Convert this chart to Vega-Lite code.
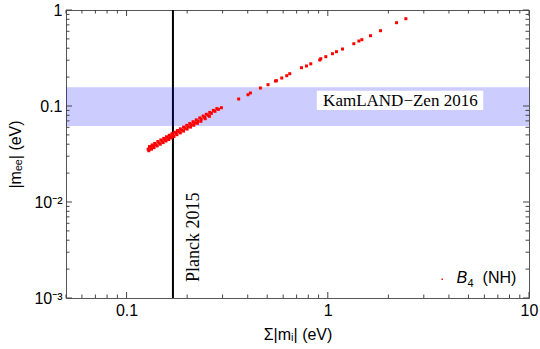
{
  "$schema": "https://vega.github.io/schema/vega-lite/v6.json",
  "width": 463,
  "height": 288,
  "autosize": {"type": "none"},
  "padding": {"left": 66, "top": 10, "right": 11, "bottom": 51},
  "background": "white",
  "config": {
    "view": {"stroke": "#555555", "strokeWidth": 1},
    "axis": {
      "grid": false,
      "domain": false,
      "ticks": false,
      "labelColor": "#000000",
      "labelFont": "Liberation Sans",
      "labelFontSize": 16,
      "titleFont": "Liberation Sans",
      "titleFontSize": 16,
      "titleFontWeight": "normal",
      "titleColor": "#000000",
      "labelFlush": false,
      "labelOverlap": false,
      "labelBound": false
    }
  },
  "datasets": {
    "points": [
      {"x": 0.128, "y": 0.0355}, {"x": 0.132, "y": 0.0369}, {"x": 0.136, "y": 0.0382}, {"x": 0.140, "y": 0.0395},
      {"x": 0.145, "y": 0.0412}, {"x": 0.150, "y": 0.0429}, {"x": 0.155, "y": 0.0446}, {"x": 0.160, "y": 0.0463},
      {"x": 0.165, "y": 0.0480}, {"x": 0.170, "y": 0.0497}, {"x": 0.176, "y": 0.0518}, {"x": 0.182, "y": 0.0539},
      {"x": 0.188, "y": 0.0561}, {"x": 0.195, "y": 0.0585}, {"x": 0.202, "y": 0.0610}, {"x": 0.210, "y": 0.0639},
      {"x": 0.218, "y": 0.0668}, {"x": 0.226, "y": 0.0697}, {"x": 0.235, "y": 0.0730}, {"x": 0.244, "y": 0.0763},
      {"x": 0.254, "y": 0.0801}, {"x": 0.264, "y": 0.0838}, {"x": 0.275, "y": 0.0880}, {"x": 0.286, "y": 0.0922},
      {"x": 0.296, "y": 0.0960},
      {"x": 0.130, "y": 0.0378}, {"x": 0.134, "y": 0.0393}, {"x": 0.138, "y": 0.0408}, {"x": 0.143, "y": 0.0426},
      {"x": 0.148, "y": 0.0443}, {"x": 0.153, "y": 0.0460}, {"x": 0.158, "y": 0.0478}, {"x": 0.163, "y": 0.0496},
      {"x": 0.168, "y": 0.0514}, {"x": 0.173, "y": 0.0533}, {"x": 0.179, "y": 0.0555}, {"x": 0.185, "y": 0.0578},
      {"x": 0.192, "y": 0.0603}, {"x": 0.199, "y": 0.0629}, {"x": 0.206, "y": 0.0656}, {"x": 0.214, "y": 0.0686},
      {"x": 0.222, "y": 0.0717}, {"x": 0.231, "y": 0.0752}, {"x": 0.240, "y": 0.0786}, {"x": 0.249, "y": 0.0820},
      {"x": 0.259, "y": 0.0858}, {"x": 0.270, "y": 0.0900}, {"x": 0.281, "y": 0.0940},
      {"x": 0.129, "y": 0.0342}, {"x": 0.133, "y": 0.0355}, {"x": 0.137, "y": 0.0368}, {"x": 0.142, "y": 0.0384},
      {"x": 0.147, "y": 0.0400}, {"x": 0.152, "y": 0.0416}, {"x": 0.157, "y": 0.0432}, {"x": 0.162, "y": 0.0448},
      {"x": 0.167, "y": 0.0465}, {"x": 0.172, "y": 0.0482}, {"x": 0.178, "y": 0.0502}, {"x": 0.185, "y": 0.0525},
      {"x": 0.192, "y": 0.0548}, {"x": 0.200, "y": 0.0575}, {"x": 0.208, "y": 0.0603}, {"x": 0.216, "y": 0.0630},
      {"x": 0.225, "y": 0.0660}, {"x": 0.234, "y": 0.0693}, {"x": 0.246, "y": 0.0737}, {"x": 0.258, "y": 0.0781},
      {"x": 0.3607, "y": 0.1183}, {"x": 0.4013, "y": 0.1311}, {"x": 0.4125, "y": 0.1366}, {"x": 0.4625, "y": 0.154},
      {"x": 0.5047, "y": 0.1667}, {"x": 0.5494, "y": 0.1822}, {"x": 0.5557, "y": 0.1835}, {"x": 0.5905, "y": 0.1957},
      {"x": 0.6252, "y": 0.2068}, {"x": 0.647, "y": 0.217}, {"x": 0.7398, "y": 0.2506}, {"x": 0.7835, "y": 0.261},
      {"x": 0.823, "y": 0.2751}, {"x": 0.9124, "y": 0.3013}, {"x": 0.923, "y": 0.311}, {"x": 0.9774, "y": 0.3263},
      {"x": 1.055, "y": 0.3505}, {"x": 1.105, "y": 0.3678}, {"x": 1.183, "y": 0.3924}, {"x": 1.347, "y": 0.4456},
      {"x": 1.427, "y": 0.4754}, {"x": 1.476, "y": 0.4905}, {"x": 1.631, "y": 0.5398}, {"x": 1.829, "y": 0.6086},
      {"x": 2.197, "y": 0.7376}, {"x": 2.443, "y": 0.8115}
    ],
    "xmajor": [{"v": 0.1}, {"v": 1}, {"v": 10}],
    "xminor": [{"v": 0.05}, {"v": 0.06}, {"v": 0.07}, {"v": 0.08}, {"v": 0.09}, {"v": 0.2}, {"v": 0.3}, {"v": 0.4}, {"v": 0.5}, {"v": 0.6}, {"v": 0.7}, {"v": 0.8}, {"v": 0.9}, {"v": 2}, {"v": 3}, {"v": 4}, {"v": 5}, {"v": 6}, {"v": 7}, {"v": 8}, {"v": 9}],
    "ymajor": [{"v": 0.001}, {"v": 0.01}, {"v": 0.1}, {"v": 1}],
    "yminor": [{"v": 0.002}, {"v": 0.003}, {"v": 0.004}, {"v": 0.005}, {"v": 0.006}, {"v": 0.007}, {"v": 0.008}, {"v": 0.009}, {"v": 0.02}, {"v": 0.03}, {"v": 0.04}, {"v": 0.05}, {"v": 0.06}, {"v": 0.07}, {"v": 0.08}, {"v": 0.09}, {"v": 0.2}, {"v": 0.3}, {"v": 0.4}, {"v": 0.5}, {"v": 0.6}, {"v": 0.7}, {"v": 0.8}, {"v": 0.9}],
    "planck": [{"x": 0.17, "ytext": 0.00147, "xtext": 0.2282, "label": "Planck 2015"}],
    "band": [{"x": 0.05, "x2": 10, "y": 0.062, "y2": 0.157}],
    "box": [{"x": 0.882, "x2": 5.925, "y": 0.0909, "y2": 0.1443, "xt": 2.295, "yt": 0.1, "label": "KamLAND−Zen 2016"}],
    "legend": [{"x": 4.368, "y": 0.001422, "dotx": 3.705, "doty": 0.001566, "b": "B", "sub": "4", "rest": "(NH)"}]
  },
  "resolve": {"axis": {"x": "independent", "y": "independent"}},
  "layer": [
    {
      "data": {"name": "planck"},
      "mark": {"type": "rule", "color": "#000000", "strokeWidth": 2},
      "encoding": {
        "x": {"field": "x", "type": "quantitative",
          "scale": {"type": "log", "domain": [0.05, 10], "nice": false},
          "axis": {"orient": "bottom", "values": [0.1, 1, 10], "labelPadding": 4,
            "labelExpr": "datum.value == 0.1 ? '0.1' : datum.value == 1 ? '1' : '10'",
            "title": "Σ|mᵢ| (eV)", "titleY": 41, "titleBaseline": "alphabetic"}}
      }
    },
    {
      "data": {"name": "band"},
      "mark": {"type": "rect", "color": "#0000ff", "opacity": 0.2},
      "encoding": {
        "x": {"field": "x", "type": "quantitative", "scale": {"type": "log", "domain": [0.05, 10], "nice": false}, "axis": null},
        "x2": {"field": "x2"},
        "y": {"field": "y", "type": "quantitative",
          "scale": {"type": "log", "domain": [0.001, 1], "nice": false},
          "axis": {"orient": "left", "values": [0.001, 0.01, 0.1, 1], "labelPadding": 4,
            "labelExpr": "datum.value == 1 ? '1' : datum.value == 0.1 ? '0.1' : datum.value == 0.01 ? '10⁻²' : '10⁻³'",
            "title": "|mₑₑ| (eV)", "titleX": -51, "titleY": 144, "titleAngle": -90, "titleBaseline": "middle", "titleAlign": "center"}},
        "y2": {"field": "y2"}
      }
    },
    {
      "data": {"name": "xmajor"},
      "mark": {"type": "tick", "orient": "vertical", "size": 6, "thickness": 1, "color": "#444444", "opacity": 1, "yOffset": -3},
      "encoding": {
        "x": {"field": "v", "type": "quantitative", "scale": {"type": "log", "domain": [0.05, 10], "nice": false}, "axis": null},
        "y": {"datum": 0.001, "type": "quantitative", "scale": {"type": "log", "domain": [0.001, 1], "nice": false}, "axis": null}
      }
    },
    {
      "data": {"name": "xmajor"},
      "mark": {"type": "tick", "orient": "vertical", "size": 6, "thickness": 1, "color": "#444444", "opacity": 1, "yOffset": 3},
      "encoding": {
        "x": {"field": "v", "type": "quantitative", "scale": {"type": "log", "domain": [0.05, 10], "nice": false}, "axis": null},
        "y": {"datum": 1, "type": "quantitative", "scale": {"type": "log", "domain": [0.001, 1], "nice": false}, "axis": null}
      }
    },
    {
      "data": {"name": "xminor"},
      "mark": {"type": "tick", "orient": "vertical", "size": 3.5, "thickness": 1, "color": "#444444", "opacity": 1, "yOffset": -1.75},
      "encoding": {
        "x": {"field": "v", "type": "quantitative", "scale": {"type": "log", "domain": [0.05, 10], "nice": false}, "axis": null},
        "y": {"datum": 0.001, "type": "quantitative", "scale": {"type": "log", "domain": [0.001, 1], "nice": false}, "axis": null}
      }
    },
    {
      "data": {"name": "xminor"},
      "mark": {"type": "tick", "orient": "vertical", "size": 3.5, "thickness": 1, "color": "#444444", "opacity": 1, "yOffset": 1.75},
      "encoding": {
        "x": {"field": "v", "type": "quantitative", "scale": {"type": "log", "domain": [0.05, 10], "nice": false}, "axis": null},
        "y": {"datum": 1, "type": "quantitative", "scale": {"type": "log", "domain": [0.001, 1], "nice": false}, "axis": null}
      }
    },
    {
      "data": {"name": "ymajor"},
      "mark": {"type": "tick", "orient": "horizontal", "size": 6, "thickness": 1, "color": "#444444", "opacity": 1, "xOffset": 3},
      "encoding": {
        "y": {"field": "v", "type": "quantitative", "scale": {"type": "log", "domain": [0.001, 1], "nice": false}, "axis": null},
        "x": {"datum": 0.05, "type": "quantitative", "scale": {"type": "log", "domain": [0.05, 10], "nice": false}, "axis": null}
      }
    },
    {
      "data": {"name": "ymajor"},
      "mark": {"type": "tick", "orient": "horizontal", "size": 6, "thickness": 1, "color": "#444444", "opacity": 1, "xOffset": -3},
      "encoding": {
        "y": {"field": "v", "type": "quantitative", "scale": {"type": "log", "domain": [0.001, 1], "nice": false}, "axis": null},
        "x": {"datum": 10, "type": "quantitative", "scale": {"type": "log", "domain": [0.05, 10], "nice": false}, "axis": null}
      }
    },
    {
      "data": {"name": "yminor"},
      "mark": {"type": "tick", "orient": "horizontal", "size": 3.5, "thickness": 1, "color": "#444444", "opacity": 1, "xOffset": 1.75},
      "encoding": {
        "y": {"field": "v", "type": "quantitative", "scale": {"type": "log", "domain": [0.001, 1], "nice": false}, "axis": null},
        "x": {"datum": 0.05, "type": "quantitative", "scale": {"type": "log", "domain": [0.05, 10], "nice": false}, "axis": null}
      }
    },
    {
      "data": {"name": "yminor"},
      "mark": {"type": "tick", "orient": "horizontal", "size": 3.5, "thickness": 1, "color": "#444444", "opacity": 1, "xOffset": -1.75},
      "encoding": {
        "y": {"field": "v", "type": "quantitative", "scale": {"type": "log", "domain": [0.001, 1], "nice": false}, "axis": null},
        "x": {"datum": 10, "type": "quantitative", "scale": {"type": "log", "domain": [0.05, 10], "nice": false}, "axis": null}
      }
    },
    {
      "data": {"name": "points"},
      "mark": {"type": "point", "shape": "square", "filled": true, "color": "#ff0000", "size": 9, "opacity": 1},
      "encoding": {
        "x": {"field": "x", "type": "quantitative", "scale": {"type": "log", "domain": [0.05, 10], "nice": false}, "axis": null},
        "y": {"field": "y", "type": "quantitative", "scale": {"type": "log", "domain": [0.001, 1], "nice": false}, "axis": null}
      }
    },
    {
      "data": {"name": "box"},
      "mark": {"type": "rect", "color": "#ffffff"},
      "encoding": {
        "x": {"field": "x", "type": "quantitative", "scale": {"type": "log", "domain": [0.05, 10], "nice": false}, "axis": null},
        "x2": {"field": "x2"},
        "y": {"field": "y", "type": "quantitative", "scale": {"type": "log", "domain": [0.001, 1], "nice": false}, "axis": null},
        "y2": {"field": "y2"}
      }
    },
    {
      "data": {"name": "box"},
      "mark": {"type": "text", "font": "Liberation Serif", "fontSize": 17, "align": "center", "baseline": "alphabetic", "color": "#000000"},
      "encoding": {
        "x": {"field": "xt", "type": "quantitative", "scale": {"type": "log", "domain": [0.05, 10], "nice": false}, "axis": null},
        "y": {"field": "yt", "type": "quantitative", "scale": {"type": "log", "domain": [0.001, 1], "nice": false}, "axis": null},
        "text": {"field": "label"}
      }
    },
    {
      "data": {"name": "planck"},
      "mark": {"type": "text", "font": "Liberation Serif", "fontSize": 18, "align": "left", "baseline": "alphabetic", "angle": 270, "color": "#000000"},
      "encoding": {
        "x": {"field": "xtext", "type": "quantitative", "scale": {"type": "log", "domain": [0.05, 10], "nice": false}, "axis": null},
        "y": {"field": "ytext", "type": "quantitative", "scale": {"type": "log", "domain": [0.001, 1], "nice": false}, "axis": null},
        "text": {"field": "label"}
      }
    },
    {
      "data": {"name": "legend"},
      "mark": {"type": "point", "shape": "square", "filled": true, "color": "#ff0000", "size": 2, "opacity": 1},
      "encoding": {
        "x": {"field": "dotx", "type": "quantitative", "scale": {"type": "log", "domain": [0.05, 10], "nice": false}, "axis": null},
        "y": {"field": "doty", "type": "quantitative", "scale": {"type": "log", "domain": [0.001, 1], "nice": false}, "axis": null}
      }
    },
    {
      "data": {"name": "legend"},
      "mark": {"type": "text", "font": "Liberation Sans", "fontSize": 16, "fontStyle": "italic", "align": "left", "baseline": "alphabetic", "color": "#000000"},
      "encoding": {
        "x": {"field": "x", "type": "quantitative", "scale": {"type": "log", "domain": [0.05, 10], "nice": false}, "axis": null},
        "y": {"field": "y", "type": "quantitative", "scale": {"type": "log", "domain": [0.001, 1], "nice": false}, "axis": null},
        "text": {"field": "b"}
      }
    },
    {
      "data": {"name": "legend"},
      "mark": {"type": "text", "font": "Liberation Sans", "fontSize": 11, "align": "left", "baseline": "alphabetic", "color": "#000000", "dx": 11, "dy": 4},
      "encoding": {
        "x": {"field": "x", "type": "quantitative", "scale": {"type": "log", "domain": [0.05, 10], "nice": false}, "axis": null},
        "y": {"field": "y", "type": "quantitative", "scale": {"type": "log", "domain": [0.001, 1], "nice": false}, "axis": null},
        "text": {"field": "sub"}
      }
    },
    {
      "data": {"name": "legend"},
      "mark": {"type": "text", "font": "Liberation Sans", "fontSize": 16, "align": "left", "baseline": "alphabetic", "color": "#000000", "dx": 26},
      "encoding": {
        "x": {"field": "x", "type": "quantitative", "scale": {"type": "log", "domain": [0.05, 10], "nice": false}, "axis": null},
        "y": {"field": "y", "type": "quantitative", "scale": {"type": "log", "domain": [0.001, 1], "nice": false}, "axis": null},
        "text": {"field": "rest"}
      }
    }
  ]
}
